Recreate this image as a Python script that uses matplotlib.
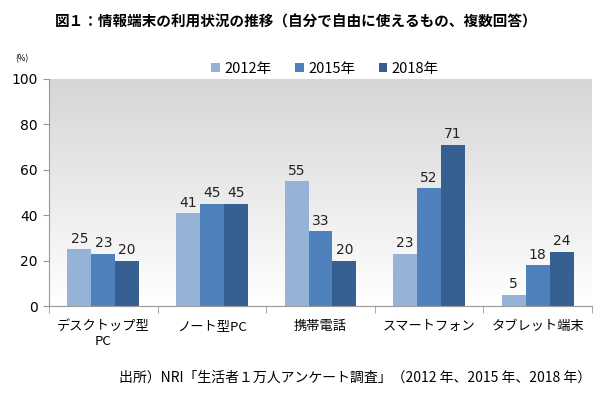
import numpy as np
import matplotlib.pyplot as plt
from matplotlib.colors import LinearSegmentedColormap

plt.rcParams['font.family'] = ['Noto Sans CJK JP', 'DejaVu Sans']

categories = ['デスクトップ型\nPC', 'ノート型PC', '携帯電話', 'スマートフォン', 'タブレット端末']
years = ['2012年', '2015年', '2018年']
values_2012 = [25, 41, 55, 23, 5]
values_2015 = [23, 45, 33, 52, 18]
values_2018 = [20, 45, 20, 71, 24]
yticks = [0, 20, 40, 60, 80, 100]

colors = ['#95b3d7', '#4f81bd', '#376092']
series = [values_2012, values_2015, values_2018]

fig = plt.figure(figsize=(6, 3.95), dpi=100)
ax = fig.add_axes([49 / 600, 1 - 306 / 395, (592 - 49) / 600, (306 - 79) / 395])

# gradient background
cmap = LinearSegmentedColormap.from_list('bg', ['#ffffff', '#d6d6d6'])
grad = np.linspace(0, 1, 256).reshape(-1, 1)
ax.imshow(grad, aspect='auto', cmap=cmap, origin='lower',
          extent=[-0.5, len(categories) - 0.5, 0, 100], zorder=0)

x = np.arange(len(categories))
w = 0.22
for i, (vals, col, lab) in enumerate(zip(series, colors, years)):
    pos = x + (i - 1) * w
    ax.bar(pos, vals, width=w, color=col, label=lab, zorder=2)
    for p, v in zip(pos, vals):
        ax.text(p, v + 1.5, str(v), ha='center', va='bottom', fontsize=10,
                family=['DejaVu Sans'], color='#222222', zorder=3)

ax.set_xlim(-0.5, len(categories) - 0.5)
ax.set_ylim(0, 100)
ax.set_yticks(yticks)
ax.set_yticklabels([str(t) for t in yticks], fontsize=10, family=['DejaVu Sans'])
ax.set_xticks(x)
ax.set_xticklabels(categories, fontsize=9.5)
ax.tick_params(axis='x', length=0, pad=10)
ax.tick_params(axis='y', length=4, color='#999999', pad=4)
ax.set_xticks(np.arange(-0.5, len(categories)), minor=True)
ax.tick_params(axis='x', which='minor', length=5, color='#999999')

for s in ['top', 'right']:
    ax.spines[s].set_visible(False)
ax.spines['left'].set_color('#999999')
ax.spines['bottom'].set_color('#999999')

leg = fig.legend(loc='center', bbox_to_anchor=(325 / 600, 1 - 69 / 395), ncol=3,
                 frameon=False, fontsize=10.5, handlelength=0.6, handleheight=0.6,
                 handletextpad=0.3, columnspacing=1.6)

fig.text(296 / 600, 1 - 22 / 395, '図１：情報端末の利用状況の推移（自分で自由に使えるもの、複数回答）',
         ha='center', va='center', fontsize=10.5, fontweight='bold')
fig.text(22 / 600, 1 - 59 / 395, '(%)', ha='center', va='center', fontsize=6)
fig.text(591 / 600, 1 - 378 / 395,
         '出所）NRI「生活者１万人アンケート調査」（2012 年、2015 年、2018 年）',
         ha='right', va='center', fontsize=10)

fig.savefig('out.png', dpi=100)
